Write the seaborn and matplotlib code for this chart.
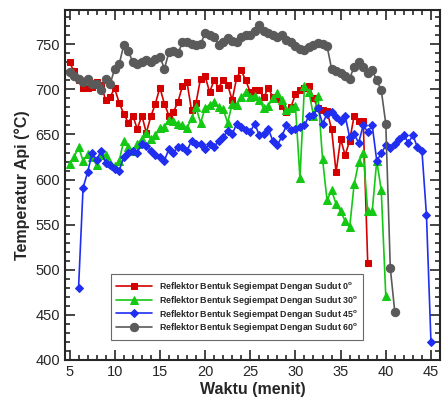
import numpy as np
import pandas as pd
import matplotlib
matplotlib.use('Agg')
import matplotlib.pyplot as plt
from matplotlib.ticker import MultipleLocator
import seaborn as sns

# time axis (menit), half-minute steps
waktu_0 = np.arange(5, 38.01, 0.5)
waktu_30 = np.arange(5, 40.01, 0.5)
waktu_45 = np.arange(6, 45.01, 0.5)
waktu_60 = np.arange(5, 41.01, 0.5)

suhu_0 = [730, 720, 710, 702, 701, 703, 708, 705, 688, 692, 701, 685, 673, 663, 671,
          656, 671, 652, 670, 684, 702, 684, 671, 675, 686, 704, 708, 677, 685, 712,
          715, 697, 710, 702, 710, 705, 688, 713, 721, 710, 697, 699, 699, 691, 702,
          691, 689, 682, 675, 680, 695, 699, 702, 704, 690, 679, 677, 676, 656, 608,
          645, 627, 643, 671, 665, 665, 508]
suhu_30 = [617, 625, 636, 621, 628, 625, 616, 627, 627, 618, 615, 621, 643, 636, 632,
           640, 645, 652, 645, 649, 657, 658, 666, 665, 662, 660, 657, 668, 680, 663,
           679, 683, 686, 680, 678, 663, 684, 683, 691, 697, 692, 693, 688, 679, 682,
           690, 696, 688, 677, 679, 682, 602, 704, 697, 671, 693, 623, 577, 588, 573,
           565, 554, 547, 595, 619, 630, 565, 565, 621, 588, 471]
suhu_45 = [480, 591, 608, 629, 622, 632, 618, 616, 612, 610, 625, 630, 632, 630, 640,
           637, 632, 627, 625, 621, 634, 630, 636, 636, 632, 643, 640, 640, 634, 640,
           636, 643, 647, 654, 650, 662, 658, 655, 653, 662, 649, 651, 656, 643, 638,
           648, 660, 655, 656, 658, 660, 671, 672, 679, 662, 673, 675, 669, 665, 671,
           647, 650, 641, 660, 653, 660, 621, 629, 638, 635, 640, 645, 649, 641, 649,
           636, 632, 561, 420]
suhu_60 = [719, 715, 712, 708, 712, 706, 706, 699, 712, 706, 723, 728, 749, 743, 730,
           728, 730, 733, 730, 734, 736, 723, 741, 742, 740, 752, 752, 750, 749, 750,
           762, 760, 758, 749, 752, 757, 754, 752, 758, 760, 760, 765, 771, 765, 763,
           760, 758, 760, 755, 752, 748, 745, 744, 747, 749, 751, 750, 748, 723, 720,
           718, 715, 712, 725, 730, 725, 718, 721, 710, 699, 662, 502, 453]

labels = ["Reflektor Bentuk Segiempat Dengan Sudut 0$^{\\mathbf{o}}$",
          "Reflektor Bentuk Segiempat Dengan Sudut 30$^{\\mathbf{o}}$",
          "Reflektor Bentuk Segiempat Dengan Sudut 45$^{\\mathbf{o}}$",
          "Reflektor Bentuk Segiempat Dengan Sudut 60$^{\\mathbf{o}}$"]

sns.set_style("ticks")
plt.rcParams['font.family'] = ['Liberation Sans', 'DejaVu Sans']
plt.rcParams['mathtext.fontset'] = 'custom'
plt.rcParams['mathtext.rm'] = 'Liberation Sans'
plt.rcParams['mathtext.bf'] = 'Liberation Sans:bold'

fig = plt.figure(figsize=(4.43, 4.04), dpi=100)
ax = fig.add_axes([65 / 443, 44 / 404, 375 / 443, 350 / 404])

series = [
    (waktu_0, suhu_0, "#d40000", "s", 4.6),
    (waktu_30, suhu_30, "#14c814", "^", 5.2),
    (waktu_45, suhu_45, "#1f2ef0", "D", 4.3),
    (waktu_60, suhu_60, "#5a5a5a", "o", 6.0),
]
for (xs, ys, col, mk, ms), lab in zip(series, labels):
    sns.lineplot(x=xs, y=ys, ax=ax, color=col, marker=mk, markersize=ms,
                 markeredgecolor=col, linewidth=1.2, label=lab, sort=False)

ax.set_xlim(4.5, 46)
ax.set_ylim(400, 788)
ax.xaxis.set_major_locator(MultipleLocator(5))
ax.xaxis.set_minor_locator(MultipleLocator(1))
ax.yaxis.set_major_locator(MultipleLocator(50))
ax.yaxis.set_minor_locator(MultipleLocator(10))
ax.tick_params(which='both', direction='in', top=True, right=True, width=1.2)
ax.tick_params(which='major', length=7, labelsize=10.5)
ax.tick_params(which='minor', length=3.5)
for sp in ax.spines.values():
    sp.set_linewidth(1.5)

ax.set_xlabel("Waktu (menit)", fontsize=11.5, fontweight='bold', labelpad=2)
ax.set_ylabel("Temperatur Api (°C)", fontsize=11.5, fontweight='bold', labelpad=4)

leg = ax.legend(loc='lower left', bbox_to_anchor=(0.11, 0.045),
                prop={'weight': 'bold', 'size': 6.4}, frameon=True, fancybox=False,
                edgecolor='#444444', handlelength=4.0, labelspacing=0.1,
                borderpad=0.6, handletextpad=0.8)
leg.get_frame().set_linewidth(0.8)

plt.savefig("out.png", dpi=100)
plt.close()
